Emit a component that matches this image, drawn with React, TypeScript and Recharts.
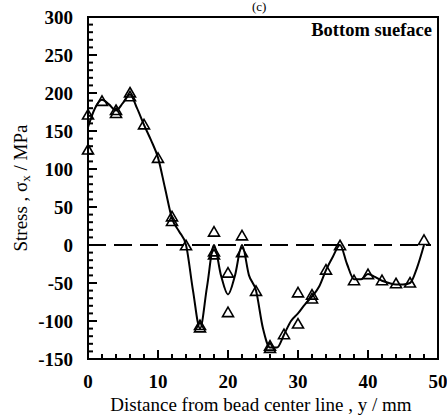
import React from 'react';
import {
    ComposedChart, Line, Scatter, XAxis, YAxis, ReferenceLine, ReferenceArea, Label
} from 'recharts';

// measured stress, y (mm) -> sigma_x (MPa)
const measX = [0, 0, 2, 4, 4, 6, 6, 8, 10, 12, 12, 14, 16, 16, 18, 18, 18, 20, 20, 22, 22, 24, 26, 26, 28, 30, 30, 32, 32, 34, 36, 38, 40, 42, 44, 46, 48];
const measY = [171, 125, 189, 177, 173, 200, 195, 158, 114, 37, 31, -1, -106, -109, 17, -9, -13, -37, -89, 12, -10, -61, -133, -136, -118, -63, -104, -66, -71, -33, -1, -47, -39, -47, -51, -50, 6];

// smoothed trend line
const fitX = [0, 1, 2, 3, 4, 5, 6, 7, 8, 9, 10, 11, 12, 13, 14, 15, 16, 17, 18, 19, 20, 21, 22, 23, 24, 25, 26, 27, 28, 29, 30, 31, 32, 33, 34, 35, 36, 37, 38, 39, 40, 41, 42, 43, 44, 45, 46, 47, 48];
const fitY = [155, 180, 191, 185, 177, 187, 198, 180, 158, 138, 115, 75, 35, 18, 0, -60, -110, -55, 0, -40, -65, -40, 0, -40, -60, -110, -135, -135, -118, -100, -90, -78, -68, -55, -33, -15, 0, -25, -45, -45, -38, -42, -47, -50, -52, -52, -50, -30, 0];

const xTicks = [0, 2, 4, 6, 8, 10, 12, 14, 16, 18, 20, 22, 24, 26, 28, 30, 32, 34, 36, 38, 40, 42, 44, 46, 48, 50];
const yTicks = [-150, -140, -130, -120, -110, -100, -90, -80, -70, -60, -50, -40, -30, -20, -10, 0, 10, 20, 30, 40, 50, 60, 70, 80, 90, 100, 110, 120, 130, 140, 150, 160, 170, 180, 190, 200, 210, 220, 230, 240, 250, 260, 270, 280, 290, 300];
const yMajor = [-150, -100, -50, 0, 50, 100, 150, 200, 250, 300];

const measured = measX.map((x, i) => ({ x, s: measY[i] }));
const fitted = fitX.map((x, i) => ({ x, s: fitY[i] }));

const W = 447;
const H = 419;
const LEFT = 88;
const RIGHT = 438;
const BOTTOM = 359;
const FONT = '"Liberation Serif", "Times New Roman", serif';

const XTick = (props: any) => {
    const { x, payload } = props;
    const major = payload.value % 10 === 0;
    return (
        <g>
            {payload.value > 0 && payload.value < 50 && (
                <line x1={x} x2={x} y1={BOTTOM} y2={BOTTOM - (major ? 9 : 5)} stroke="#000" strokeWidth={2} />
            )}
            {major && (
                <text x={x} y={381} textAnchor="middle" dominantBaseline="central"
                    fontFamily={FONT} fontWeight="bold" fontSize={19} fill="#000">
                    {payload.value}
                </text>
            )}
        </g>
    );
};

const YTick = (props: any) => {
    const { y, payload } = props;
    const major = yMajor.includes(payload.value);
    return (
        <g>
            <line x1={LEFT} x2={LEFT + (major ? 9 : 5)} y1={y} y2={y} stroke="#000" strokeWidth={2} />
            {major && (
                <text x={73} y={y} textAnchor="end" dominantBaseline="central"
                    fontFamily={FONT} fontWeight="bold" fontSize={19} fill="#000">
                    {payload.value}
                </text>
            )}
        </g>
    );
};

const RightTick = (props: any) => {
    const { y } = props;
    return <line x1={RIGHT} x2={RIGHT - 7} y1={y} y2={y} stroke="#000" strokeWidth={2} />;
};

const Triangle = (props: any) => {
    const { cx, cy } = props;
    return (
        <path d={`M${cx},${cy - 5.5} L${cx + 5.5},${cy + 4} L${cx - 5.5},${cy + 4} Z`}
            fill="#fff" fillOpacity={0} stroke="#000" strokeWidth={1.6} />
    );
};

export default function App() {
    return (
        <div style={{ position: 'absolute', left: 0, top: 0, width: W, height: H, background: '#fff' }}>
            <ComposedChart width={W} height={H} margin={{ top: 17, right: 0, bottom: 0, left: 0 }}>
                <XAxis type="number" dataKey="x" domain={[0, 50]} ticks={xTicks} interval={0}
                    allowDuplicatedCategory={false} height={60} tickLine={false}
                    axisLine={{ stroke: '#000', strokeWidth: 2 }} tick={<XTick />}>
                    <Label content={() => (
                        <text x={261} y={404} textAnchor="middle" dominantBaseline="central"
                            fontFamily={FONT} fontSize={19} fill="#000">
                            Distance from bead center line , y / mm
                        </text>
                    )} />
                </XAxis>
                <YAxis type="number" domain={[-150, 300]} ticks={yTicks} interval={0} width={LEFT}
                    tickLine={false} axisLine={{ stroke: '#000', strokeWidth: 2 }} tick={<YTick />}>
                    <Label content={() => (
                        <text x={20} y={188} transform="rotate(-90 20 188)" textAnchor="middle"
                            dominantBaseline="central" fontFamily={FONT} fontSize={19} fill="#000">
                            Stress , σ<tspan fontSize={13} dy={5}>x</tspan><tspan dy={-5}> / MPa</tspan>
                        </text>
                    )} />
                </YAxis>
                <YAxis yAxisId="right" orientation="right" type="number" domain={[-150, 300]}
                    ticks={yMajor} interval={0} width={W - RIGHT} tickLine={false} axisLine={false}
                    tick={<RightTick />} />
                <ReferenceArea x1={0} x2={50} y1={-150} y2={300} fill="none" fillOpacity={0}
                    stroke="#000" strokeWidth={2}>
                    <Label content={() => (
                        <text x={432} y={30} textAnchor="end" dominantBaseline="central"
                            fontFamily={FONT} fontWeight="bold" fontSize={18.5} fill="#000">
                            Bottom sueface
                        </text>
                    )} />
                </ReferenceArea>
                <ReferenceLine segment={[{ x: 0, y: 0 }, { x: 49, y: 0 }]} stroke="#000"
                    strokeWidth={2} strokeDasharray="18 8" />
                <Line data={fitted} dataKey="s" type="monotone" stroke="#000" strokeWidth={2}
                    dot={false} isAnimationActive={false} />
                <Scatter data={measured} dataKey="s" shape={<Triangle />} isAnimationActive={false} />
            </ComposedChart>
            <div style={{ position: 'absolute', left: 252, top: 0, fontFamily: FONT, fontSize: 13, lineHeight: '14px' }}>(c)</div>
        </div>
    );
}
